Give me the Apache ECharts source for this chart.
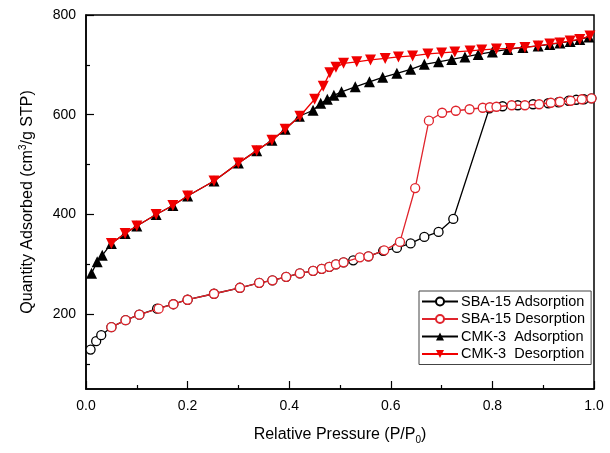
<!DOCTYPE html>
<html><head><meta charset="utf-8">
<script src="https://cdn.jsdelivr.net/npm/echarts@6/dist/echarts.min.js"></script>
<style>html,body{margin:0;padding:0;background:#fff}#c{width:610px;height:453px}</style>
</head><body><div id="c"></div>
<script>
const seriesNames = ['SBA-15 Adsorption', 'SBA-15 Desorption', 'CMK-3  Adsorption', 'CMK-3  Desorption'];
const sbaAdsP = [0.009,0.02,0.03,0.05,0.078,0.105,0.14,0.172,0.2,0.252,0.303,0.341,0.367,0.394,0.421,0.447,0.464,0.479,0.492,0.507,0.526,0.556,0.585,0.612,0.639,0.666,0.694,0.723,0.794,0.82,0.85,0.88,0.91,0.93,0.95,0.965,0.98,0.995];
const sbaAdsV = [129,146,158,174,188,199,211,220,229,241,253,263,268,275,282,287,291,295,300,304,308,316,327,333,342,355,365,391,613,617,619,621,623,625,628,630,631,633];
const sbaDesP = [0.05,0.078,0.105,0.143,0.172,0.2,0.252,0.303,0.341,0.367,0.394,0.421,0.447,0.464,0.479,0.492,0.507,0.539,0.556,0.587,0.618,0.648,0.675,0.701,0.728,0.755,0.781,0.795,0.808,0.838,0.864,0.892,0.915,0.933,0.954,0.976,0.995];
const sbaDesV = [174,188,199,211,220,229,241,253,263,268,275,282,287,291,295,300,304,314,316,328,345,453,588,604,608,611,614,615,616,619,619,621,624,626,628,631,633];
const cmkAdsP = [0.011,0.022,0.032,0.05,0.077,0.1,0.138,0.171,0.2,0.252,0.30,0.336,0.366,0.392,0.42,0.447,0.462,0.475,0.488,0.503,0.53,0.558,0.584,0.612,0.639,0.666,0.694,0.72,0.746,0.772,0.80,0.83,0.86,0.89,0.913,0.933,0.953,0.972,0.99];
const cmkAdsV = [282,305,318,342,362,377,400,418,437,467,503,528,549,571,597,609,623,631,639,646,656,666,675,683,691,701,706,711,716,721,726,731,735,738,741,744,747,751,756];
const cmkDesP = [0.05,0.077,0.1,0.138,0.171,0.2,0.252,0.30,0.336,0.366,0.392,0.421,0.45,0.467,0.48,0.492,0.507,0.533,0.56,0.589,0.615,0.643,0.673,0.70,0.726,0.756,0.779,0.808,0.835,0.864,0.89,0.913,0.933,0.953,0.972,0.992];
const cmkDesV = [342,362,377,400,418,437,467,503,528,549,571,597,631,657,684,695,703,706,710,713,716,718,722,724,726,728,730,732,733,735,738,742,744,748,751,758];
const xTicks = [0, 0.2, 0.4, 0.6, 0.8, 1.0];
const yMajorTicks = [200, 400, 600, 800];
const yMinorTicks = [100, 300, 500, 700];

const zip = (a, b) => a.map((v, i) => [v, b[i]]);
const font = 'Liberation Sans, Arial, sans-serif';
const chart = echarts.init(document.getElementById('c'), null, {renderer: 'canvas'});
const RED = '#f00000', CRED = '#e0242c';
chart.setOption({
  animation: false,
  textStyle: {fontFamily: font},
  grid: {left: 86, right: 16, top: 15, bottom: 64, show: true, borderColor: '#000', borderWidth: 1.5, backgroundColor: 'transparent'},
  legend: {
    orient: 'vertical', left: 419, top: 291, data: seriesNames,
    itemWidth: 36, itemHeight: 10, itemGap: 2.5,
    backgroundColor: '#fff',
    borderColor: '#444', borderWidth: 1, padding: [3, 6, 3, 2],
    textStyle: {fontFamily: font, fontSize: 14.5, lineHeight: 15, color: '#000', padding: [0, 0, 0, -2]},
    inactiveColor: '#ccc'
  },
  xAxis: {
    type: 'value', min: 0, max: 1, interval: 0.2,
    name: 'Relative Pressure (P/P{sub|0})', nameLocation: 'middle', nameGap: 36,
    nameTextStyle: {fontFamily: font, fontSize: 16, color: '#000', rich: {sub: {fontSize: 10, verticalAlign: 'bottom', padding: [10, 0, 0, 0], fontFamily: font, color: '#000'}}},
    axisLine: {show: true, lineStyle: {color: '#000', width: 1.5}},
    axisTick: {show: true, inside: true, length: 8, lineStyle: {color: '#000', width: 1.2}},
    minorTick: {show: true, splitNumber: 2, length: 4, lineStyle: {color: '#000', width: 1.2}},
    axisLabel: {color: '#000', fontSize: 14, fontFamily: font, margin: 10, formatter: v => v.toFixed(1)},
    splitLine: {show: false}
  },
  yAxis: [{
    type: 'value', min: 50, max: 800,
    name: 'Quantity Adsorbed (cm{sup|3}/g STP)', nameLocation: 'middle', nameGap: 48, nameRotate: 90,
    nameTextStyle: {fontFamily: font, fontSize: 16, color: '#000', rich: {sup: {fontSize: 10, verticalAlign: 'top', padding: [0, 0, 10, 0], fontFamily: font, color: '#000'}}},
    axisLine: {show: true, lineStyle: {color: '#000', width: 1.5}},
    axisTick: {show: true, inside: true, length: 8, customValues: yMajorTicks, lineStyle: {color: '#000', width: 1.2}},
    axisLabel: {color: '#000', fontSize: 14, fontFamily: font, margin: 10, customValues: yMajorTicks},
    splitLine: {show: false}
  }, {
    type: 'value', min: 50, max: 800, position: 'left',
    axisLine: {show: false},
    axisTick: {show: true, inside: true, length: 4, customValues: yMinorTicks, lineStyle: {color: '#000', width: 1.2}},
    axisLabel: {show: false},
    splitLine: {show: false}
  }],
  series: [
    {name: seriesNames[0], type: 'line', data: zip(sbaAdsP, sbaAdsV), symbol: 'circle', symbolSize: 9,
     itemStyle: {color: '#fff', borderColor: '#000', borderWidth: 1.3}, lineStyle: {color: '#000', width: 1.3}, z: 2},
    {name: seriesNames[1], type: 'line', data: zip(sbaDesP, sbaDesV), symbol: 'circle', symbolSize: 9,
     itemStyle: {color: '#fff', borderColor: CRED, borderWidth: 1.3}, lineStyle: {color: CRED, width: 1.3}, z: 3},
    {name: seriesNames[2], type: 'line', data: zip(cmkAdsP, cmkAdsV), symbol: 'triangle', symbolSize: 11,
     itemStyle: {color: '#000'}, lineStyle: {color: '#000', width: 1.3}, z: 4},
    {name: seriesNames[3], type: 'line', data: zip(cmkDesP, cmkDesV), symbol: 'triangle', symbolRotate: 180, symbolSize: 11,
     itemStyle: {color: RED}, lineStyle: {color: RED, width: 1.3}, z: 5}
  ]
});
</script></body></html>
